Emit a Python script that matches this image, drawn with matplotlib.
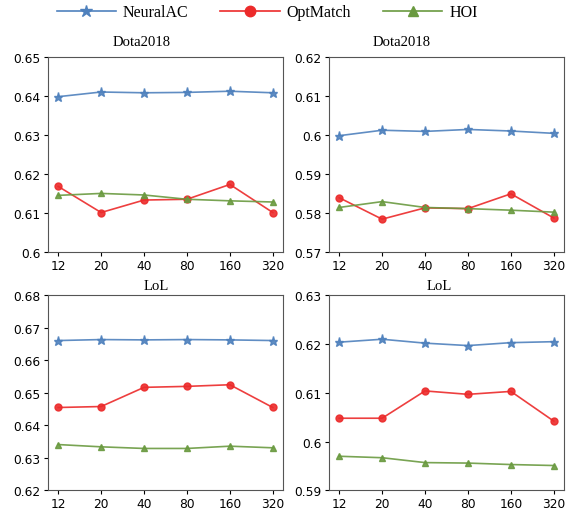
import matplotlib
matplotlib.use("Agg")
import matplotlib.pyplot as plt

x_labels = ["12", "20", "40", "80", "160", "320"]
titles = ["Dota2018", "Dota2018", "LoL", "LoL"]
series_names = ["NeuralAC", "OptMatch", "HOI"]

neuralac = [
    [0.6399, 0.6411, 0.6409, 0.6410, 0.6413, 0.6409],
    [0.5999, 0.6013, 0.6010, 0.6015, 0.6011, 0.6005],
    [0.6661, 0.6664, 0.6663, 0.6664, 0.6663, 0.6661],
    [0.6204, 0.6210, 0.6202, 0.6197, 0.6203, 0.6205],
]
optmatch = [
    [0.6169, 0.6102, 0.6134, 0.6136, 0.6174, 0.6102],
    [0.5840, 0.5785, 0.5814, 0.5812, 0.5850, 0.5788],
    [0.6455, 0.6458, 0.6517, 0.6520, 0.6525, 0.6455],
    [0.6048, 0.6048, 0.6104, 0.6097, 0.6103, 0.6042],
]
hoi = [
    [0.6146, 0.6151, 0.6147, 0.6136, 0.6132, 0.6129],
    [0.5815, 0.5830, 0.5815, 0.5812, 0.5808, 0.5803],
    [0.6341, 0.6334, 0.6329, 0.6329, 0.6336, 0.6331],
    [0.5970, 0.5967, 0.5957, 0.5956, 0.5953, 0.5951],
]
y_ticks = [
    [0.60, 0.61, 0.62, 0.63, 0.64, 0.65],
    [0.57, 0.58, 0.59, 0.60, 0.61, 0.62],
    [0.62, 0.63, 0.64, 0.65, 0.66, 0.67, 0.68],
    [0.59, 0.60, 0.61, 0.62, 0.63],
]
y_tick_labels = [
    ["0.6", "0.61", "0.62", "0.63", "0.64", "0.65"],
    ["0.57", "0.58", "0.59", "0.6", "0.61", "0.62"],
    ["0.62", "0.63", "0.64", "0.65", "0.66", "0.67", "0.68"],
    ["0.59", "0.6", "0.61", "0.62", "0.63"],
]

colors = ["#4f81bd", "#ec2a2a", "#6a9a40"]
markers = ["*", "o", "^"]
msizes = [6.5, 5, 5]

fig = plt.figure(figsize=(5.71, 5.10), dpi=100)
positions = [
    [0.0846, 0.5033, 0.4105, 0.3824],
    [0.5767, 0.5033, 0.4105, 0.3824],
    [0.0846, 0.0365, 0.4105, 0.3824],
    [0.5767, 0.0365, 0.4105, 0.3824],
]
title_x = [0.40, 0.31, 0.46, 0.47]
title_pad = [9, 9, 4.5, 4.5]
xs = list(range(len(x_labels)))
handles = []
for i in range(4):
    ax = fig.add_axes(positions[i])
    data = [neuralac[i], optmatch[i], hoi[i]]
    for j in range(3):
        h, = ax.plot(xs, data[j], color=colors[j], marker=markers[j],
                     markersize=msizes[j], linewidth=1.2, alpha=0.9,
                     label=series_names[j])
        if i == 0:
            handles.append(h)
    ax.set_xlim(-0.23, 5.23)
    ax.set_ylim(y_ticks[i][0], y_ticks[i][-1])
    ax.set_yticks(y_ticks[i])
    ax.set_yticklabels(y_tick_labels[i])
    ax.set_xticks(xs)
    ax.set_xticklabels(x_labels)
    ax.tick_params(labelsize=8.8, length=3, pad=2.5)
    ax.tick_params(axis="x", pad=1.5)
    for s in ax.spines.values():
        s.set_color("#555555")
    ax.set_title(titles[i], fontfamily="Liberation Serif", fontsize=10.6,
                 pad=title_pad[i], x=title_x[i])

legend_handles = [
    plt.Line2D([], [], color=colors[j], marker=markers[j],
               markersize=msizes[j] + 2.5, linewidth=1.2)
    for j in range(3)
]
fig.legend(legend_handles, series_names, loc="center", bbox_to_anchor=(0.468, 0.974),
           ncol=3, frameon=False, handlelength=3.7, handletextpad=0.45,
           columnspacing=2.0,
           prop={"family": "Liberation Serif", "size": 11.5})

fig.savefig("out.png", dpi=100)
